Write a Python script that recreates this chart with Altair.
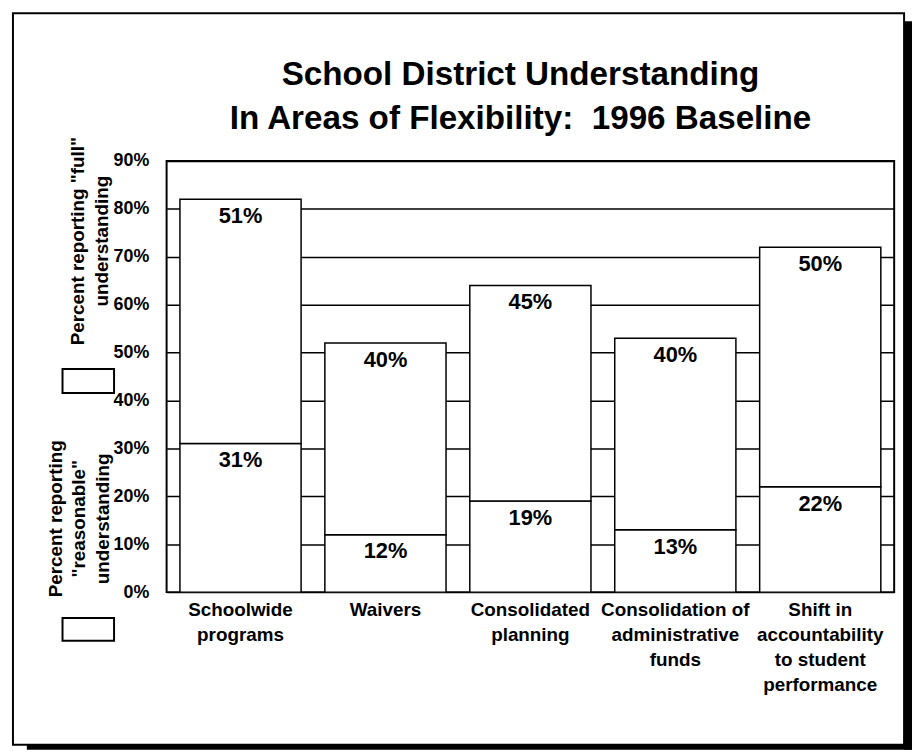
import altair as alt
import pandas as pd

# ---- data ----
categories = [
    "Schoolwide\nprograms",
    "Waivers",
    "Consolidated\nplanning",
    "Consolidation of\nadministrative\nfunds",
    "Shift in\naccountability\nto student\nperformance",
]
full_pct = [31, 12, 19, 13, 22]          # lower segment
reasonable_pct = [51, 40, 45, 40, 50]    # upper segment
y_ticks = [0, 10, 20, 30, 40, 50, 60, 70, 80, 90]

title_lines = ["School District Understanding", "In Areas of Flexibility:\u00a0 1996 Baseline"]
legend_full = ['Percent reporting "full"', "understanding"]
legend_reasonable = ["Percent reporting", '"reasonable"', "understanding"]

FONT = "Liberation Sans"

rows = []
for c, f, r in zip(categories, full_pct, reasonable_pct):
    rows.append({"category": c, "segment": "full", "start": 0, "end": f, "label": f"{f}%"})
    rows.append({"category": c, "segment": "reasonable", "start": f, "end": f + r, "label": f"{r}%"})
df = pd.DataFrame(rows)

W, H = 734, 435
one = pd.DataFrame({"k": [0]})

x_enc = alt.X(
    "category:N", sort=categories,
    scale=alt.Scale(paddingInner=0.164, paddingOuter=0.092),
    axis=alt.Axis(
        title=None, labelAngle=0, ticks=False, domain=False,
        labelExpr="split(datum.label, '\\n')",
        labelFont=FONT, labelFontSize=19, labelFontWeight="bold",
        labelColor="black", labelLineHeight=25, labelPadding=9,
        labelBaseline="top", labelLimit=400,
    ),
)
y_scale = alt.Scale(domain=[0, 90], nice=False)

bars = alt.Chart(df).mark_bar(fill="white", stroke="black", strokeWidth=1.5).encode(
    x=x_enc,
    y=alt.Y(
        "start:Q", scale=y_scale,
        axis=alt.Axis(
            title=None, values=y_ticks, labelExpr="datum.value + '%'",
            grid=True, gridColor="black", gridWidth=1.5, gridOpacity=1,
            domain=False, ticks=False, labelPadding=18,
            labelFont=FONT, labelFontSize=18, labelFontWeight="bold", labelColor="black",
        ),
    ),
    y2="end:Q",
)

labels = alt.Chart(df).mark_text(
    font=FONT, fontSize=22, fontWeight="bold", color="black",
    baseline="alphabetic", align="center", dy=24,
).encode(
    x=alt.X("category:N", sort=categories),
    y=alt.Y("end:Q", scale=y_scale),
    text="label:N",
)

# outer page frame with drop shadow
frame = alt.Chart(one).mark_rect(fill=None, stroke="black", strokeWidth=2).encode(
    x=alt.value(-155), x2=alt.value(744), y=alt.value(-149), y2=alt.value(589)
)
shadow_r = alt.Chart(one).mark_rect(fill="black").encode(
    x=alt.value(744), x2=alt.value(752), y=alt.value(-141), y2=alt.value(594)
)
shadow_b = alt.Chart(one).mark_rect(fill="black").encode(
    x=alt.value(-141), x2=alt.value(752), y=alt.value(589), y2=alt.value(594)
)

title = alt.Chart(one).mark_text(
    text=title_lines, font=FONT, fontSize=33.5, fontWeight="bold", color="black",
    align="center", baseline="top", lineHeight=45,
).encode(x=alt.value(357), y=alt.value(-103))

leg_full_txt = alt.Chart(one).mark_text(
    text=legend_full, font=FONT, fontSize=19, fontWeight="bold", color="black",
    align="center", baseline="middle", lineHeight=24, angle=270,
).encode(x=alt.value(-89), y=alt.value(81))
leg_reas_txt = alt.Chart(one).mark_text(
    text=legend_reasonable, font=FONT, fontSize=19, fontWeight="bold", color="black",
    align="center", baseline="middle", lineHeight=24, angle=270,
).encode(x=alt.value(-112), y=alt.value(361))

leg_full_box = alt.Chart(one).mark_rect(fill="white", stroke="black", strokeWidth=2).encode(
    x=alt.value(-105), x2=alt.value(-53), y=alt.value(210), y2=alt.value(234)
)
leg_reas_box = alt.Chart(one).mark_rect(fill="white", stroke="black", strokeWidth=2).encode(
    x=alt.value(-105), x2=alt.value(-53), y=alt.value(461), y2=alt.value(484)
)

chart = alt.layer(
    bars, labels, frame, shadow_r, shadow_b, title,
    leg_full_txt, leg_reas_txt, leg_full_box, leg_reas_box,
).properties(
    width=W, height=H, autosize="none",
    padding={"left": 160, "top": 151, "right": 19, "bottom": 159},
    background="white",
).configure_view(stroke="black", strokeWidth=2)

chart.save("out.html", embed_options={"renderer": "svg", "actions": False})
